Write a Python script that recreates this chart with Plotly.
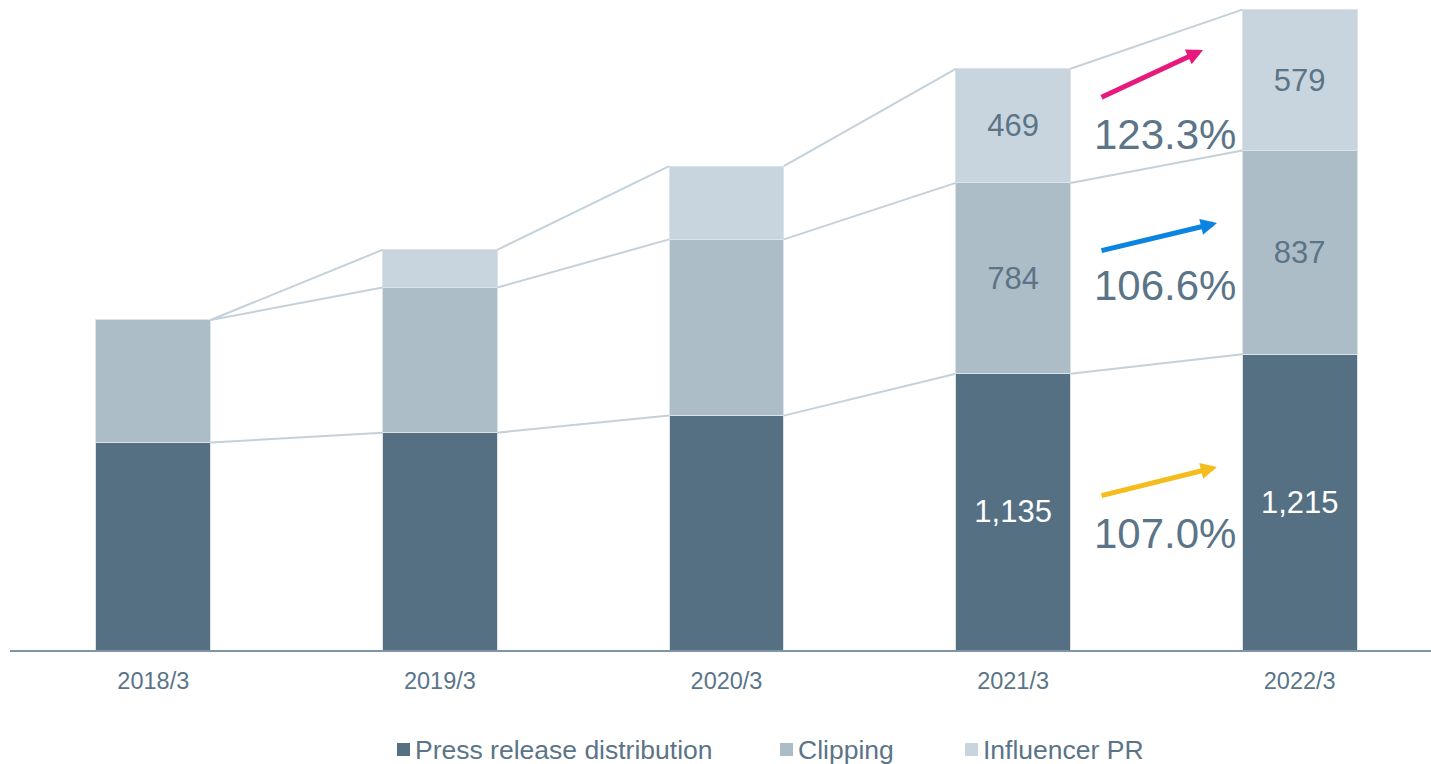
import plotly.graph_objects as go

# ---------------- data ----------------
years = ["2018/3", "2019/3", "2020/3", "2021/3", "2022/3"]
press = [852, 893, 963, 1135, 1215]
clipping = [504, 596, 724, 784, 837]
influencer = [0, 155, 301, 469, 579]
labelled = [False, False, False, True, True]
growth_labels = ["123.3%", "106.6%", "107.0%"]  # influencer, clipping, press
series_names = ["Press release distribution", "Clipping", "Influencer PR"]

# ---------------- style ----------------
C_PRESS = "#557083"
C_CLIP = "#adbdc8"
C_INFL = "#c8d5de"
C_LINE = "#c4d1da"
C_TEXT = "#5b7487"
C_AXIS = "#7f95a5"
FONT = "Liberation Sans, Arial, sans-serif"

W, H = 1431, 764
ML, MR, MT, MB = 10, 0, 0, 114
PW, PH = W - ML - MR, H - MT - MB
BAR_W = 0.4


def px_x(p):
    return (p - ML) / PW


def px_y(p):
    return (MT + PH - p) / PH


xs = list(range(len(years)))


def fmt(vals):
    return [f"{v:,}" if s else "" for v, s in zip(vals, labelled)]


fig = go.Figure()
common = dict(width=BAR_W, textposition="inside", insidetextanchor="middle",
              constraintext="none", showlegend=False, hoverinfo="skip",
              marker_line=dict(color="#dbe3e9", width=1))
fig.add_trace(go.Bar(x=xs, y=press, marker_color=C_PRESS, text=fmt(press),
                     textfont=dict(color="white", size=31, family=FONT),
                     name=series_names[0], **common))
fig.add_trace(go.Bar(x=xs, y=clipping, marker_color=C_CLIP, text=fmt(clipping),
                     textfont=dict(color=C_TEXT, size=31, family=FONT),
                     name=series_names[1], **common))
fig.add_trace(go.Bar(x=xs, y=influencer, marker_color=C_INFL, text=fmt(influencer),
                     textfont=dict(color=C_TEXT, size=31, family=FONT),
                     name=series_names[2], **common))

# connector lines between stack levels
lvl1 = press
lvl2 = [a + b for a, b in zip(press, clipping)]
lvl3 = [a + b + c for a, b, c in zip(press, clipping, influencer)]
for lvl in (lvl1, lvl2, lvl3):
    lx, ly = [], []
    for i in range(len(xs) - 1):
        lx += [xs[i] + BAR_W / 2, xs[i + 1] - BAR_W / 2, None]
        ly += [lvl[i], lvl[i + 1], None]
    fig.add_trace(go.Scatter(x=lx, y=ly, mode="lines",
                             line=dict(color=C_LINE, width=2),
                             showlegend=False, hoverinfo="skip"))

# growth arrows and labels (pixel positions)
arrows = [
    ((1100, 98), (1203, 50), "#e8197d", growth_labels[0], 134),
    ((1100, 251), (1217, 223), "#0a84e0", growth_labels[1], 286),
    ((1100, 496), (1217, 467), "#f4bc1c", growth_labels[2], 533),
]
for (tx, ty), (hx, hy), col, lab, ly in arrows:
    fig.add_annotation(x=px_x(hx), y=px_y(hy), xref="paper", yref="paper",
                       ax=tx - hx, ay=ty - hy, axref="pixel", ayref="pixel",
                       text="", showarrow=True, arrowhead=2, arrowsize=0.65,
                       arrowwidth=5, arrowcolor=col, standoff=0)
    fig.add_annotation(x=px_x(1165), y=px_y(ly), xref="paper", yref="paper",
                       text=lab, showarrow=False, xanchor="center", yanchor="middle",
                       font=dict(size=42, color=C_TEXT, family=FONT))

# manual legend
legend_items = [(397, series_names[0], C_PRESS), (780, series_names[1], C_CLIP),
                (965, series_names[2], C_INFL)]
for x0, name, col in legend_items:
    fig.add_shape(type="rect", xref="paper", yref="paper",
                  x0=px_x(x0), x1=px_x(x0 + 13), y0=px_y(756), y1=px_y(743),
                  fillcolor=col, line=dict(width=0))
    fig.add_annotation(x=px_x(x0 + 16), y=px_y(750), xref="paper", yref="paper",
                       text=name, showarrow=False, xanchor="left", yanchor="middle",
                       font=dict(size=26.5, color=C_TEXT, family=FONT))

fig.update_layout(
    width=W, height=H, barmode="stack",
    margin=dict(l=ML, r=MR, t=MT, b=MB),
    paper_bgcolor="white", plot_bgcolor="white",
    font=dict(family=FONT, color=C_TEXT),
)
fig.update_xaxes(range=[-0.5, (PW) / 286.6 - 0.5], tickvals=xs, ticktext=years,
                 showgrid=False, zeroline=False, showline=True,
                 linecolor=C_AXIS, linewidth=2, ticks="",
                 tickfont=dict(size=23.5, color=C_TEXT, family=FONT),
                 ticklabelstandoff=9)
fig.update_yaxes(range=[0, 650 / 0.2434], visible=False, showgrid=False, zeroline=False)

fig.write_html("out.html")
